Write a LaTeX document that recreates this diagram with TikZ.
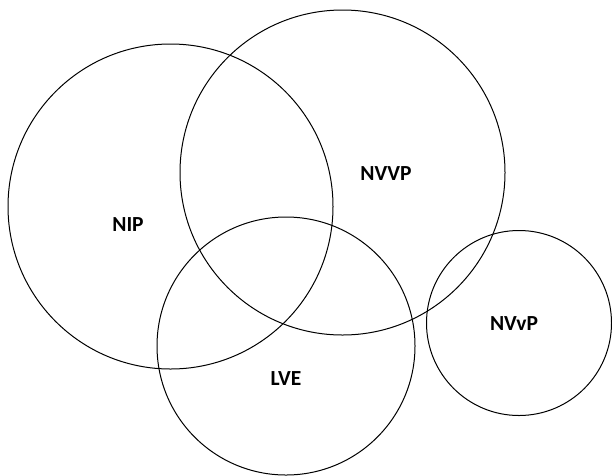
\documentclass[tikz,border=0pt]{standalone}
\usepackage{fontspec}
\setmainfont{Carlito}
\begin{document}
\begin{tikzpicture}[x=1pt,y=-1pt,
  setcircle/.style={draw=black,line width=1pt,circle,inner sep=0pt,minimum size=#1},
  setlabel/.style={font=\bfseries\fontsize{21.5}{24}\selectfont,inner sep=0pt}]
\useasboundingbox (0,0) rectangle (612,475);
\node[setcircle=325pt] (nip) at (170.5,206.5) {};
\node[setcircle=325pt] (nvvp) at (342.5,172.5) {};
\node[setcircle=258pt] (lve) at (286,346) {};
\node[setcircle=185pt] (nvvps) at (519,323) {};
\node[setlabel] (lnip) at (128,225) {NIP};
\node[setlabel] (lnvvp) at (386,174) {NVVP};
\node[setlabel] (llve) at (286,379) {LVE};
\node[setlabel] (lnvvps) at (514,324) {NVvP};
\end{tikzpicture}
\end{document}
